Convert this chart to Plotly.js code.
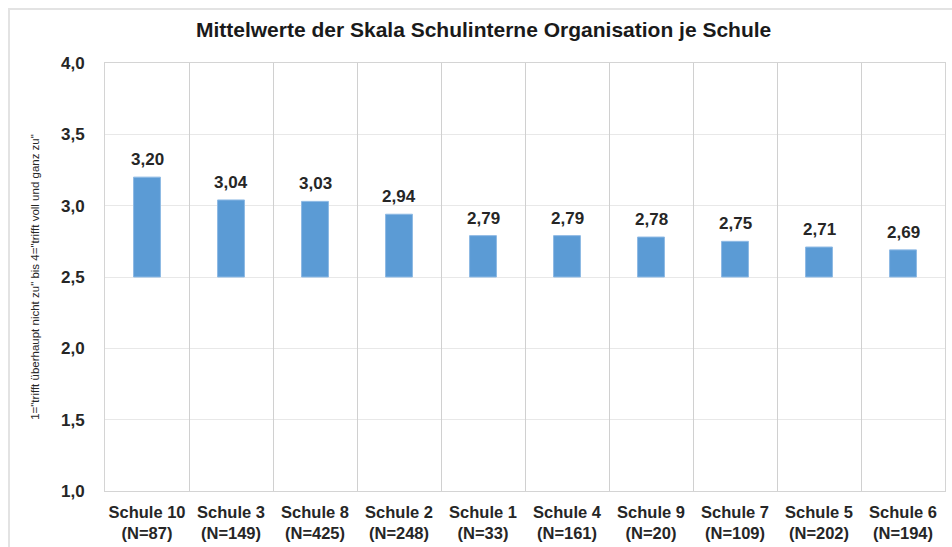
<!DOCTYPE html>
<html><head><meta charset="utf-8">
<script src="https://cdn.plot.ly/plotly-3.0.1.min.js"></script>
<style>
html,body{margin:0;padding:0;background:#fff;}
#wrap{position:relative;width:952px;height:547px;}
#frame{position:absolute;left:8px;top:8px;width:960px;height:560px;border:2px solid #e3e3e3;box-sizing:border-box;pointer-events:none;}
#chart{position:absolute;left:0;top:0;width:952px;height:547px;}
</style></head>
<body><div id="wrap"><div id="frame"></div><div id="chart"></div></div>
<script>
const schools = ["Schule 10","Schule 3","Schule 8","Schule 2","Schule 1","Schule 4","Schule 9","Schule 7","Schule 5","Schule 6"];
const counts = [87,149,425,248,33,161,20,109,202,194];
const means = [3.20,3.04,3.03,2.94,2.79,2.79,2.78,2.75,2.71,2.69];
const baseValue = 2.5;
const yTicks = [1.0,1.5,2.0,2.5,3.0,3.5,4.0];

const idx = schools.map((_, i) => i);
const tickText = schools.map((s, i) => s + "<br>(N=" + counts[i] + ")");
const labels = means.map(v => v.toFixed(2).replace('.', ','));

const font = "Liberation Sans, Arial, sans-serif";
const trace = {
  type: 'bar',
  x: idx,
  y: means.map(v => v - baseValue),
  base: means.map(() => baseValue),
  marker: {color: '#5B9BD5', line: {color: '#8db9e4', width: 1}},
  width: 0.32,
  hoverinfo: 'skip'
};
const annotations = means.map((v, i) => ({
  x: idx[i], y: v, xref: 'x', yref: 'y',
  text: '<b>' + labels[i] + '</b>', showarrow: false,
  yanchor: 'bottom', yshift: 6,
  font: {family: font, size: 17, color: '#262626'}
}));
const layout = {
  width: 952, height: 547,
  margin: {l: 105, r: 7, t: 63, b: 56},
  paper_bgcolor: 'rgba(0,0,0,0)',
  plot_bgcolor: '#fff',
  separators: ',.',
  showlegend: false,
  annotations: annotations,
  title: {text: '<b>Mittelwerte der Skala Schulinterne Organisation je Schule</b>',
          font: {family: font, size: 21, color: '#1a1a1a'}, x: 0.508, xanchor: 'center', y: 0.945, yanchor: 'middle', xref: 'container'},
  xaxis: {
    range: [-0.5, schools.length - 0.5],
    tickvals: idx, ticktext: tickText,
    tickfont: {family: font, size: 16.5, color: '#262626', weight: 'bold'},
    showgrid: false, zeroline: false,
    showline: true, mirror: true, linecolor: '#d4d4d4', linewidth: 1,
    ticks: '', ticklabelstandoff: 6, fixedrange: true
  },
  xaxis2: {
    overlaying: 'x', range: [-0.5, schools.length - 0.5],
    tickmode: 'linear', tick0: 0.5, dtick: 1,
    showgrid: true, gridcolor: '#d0d0d0', gridwidth: 1,
    showticklabels: false, ticks: '', zeroline: false, layer: 'below traces'
  },
  yaxis: {
    range: [1.0, 4.0], tickvals: yTicks, tickformat: '.1f',
    tickfont: {family: font, size: 17, color: '#262626', weight: 'bold'},
    showgrid: true, gridcolor: '#e8e8e8', gridwidth: 1,
    zeroline: false, showline: true, mirror: true, linecolor: '#d4d4d4',
    ticks: '', ticklabelstandoff: 16,
    title: {text: '1="trifft überhaupt nicht zu" bis 4="trifft voll und ganz zu"',
            font: {family: font, size: 11.5, color: '#262626'}, standoff: 18},
    automargin: false
  }
};
const gridTrace = {type: 'scatter', x: [], y: [], xaxis: 'x2', yaxis: 'y', hoverinfo: 'skip'};
Plotly.newPlot('chart', [gridTrace, trace], layout, {displayModeBar: false, staticPlot: true});
</script></body></html>
